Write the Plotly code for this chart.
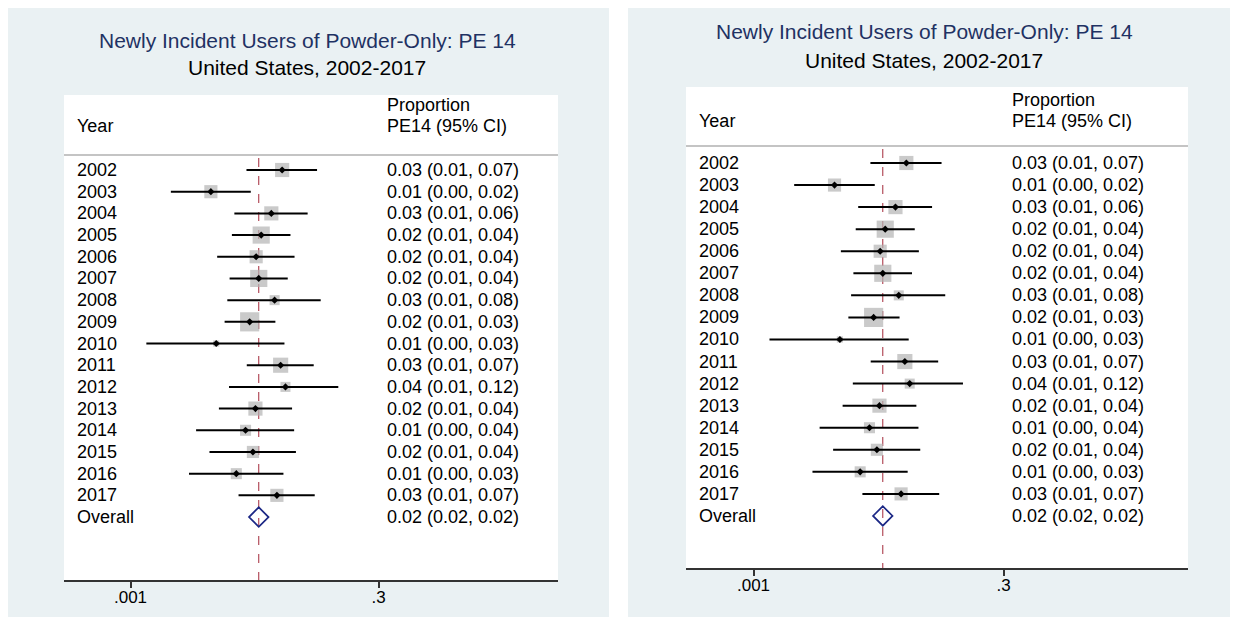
import plotly.graph_objects as go

# window is 1238x617; the page body adds an 8px margin, so the figure is
# made 8px smaller and every window-pixel position is shifted by that margin
WIN_W, WIN_H = 1238, 617
OFF = 8
W, H = WIN_W - OFF, WIN_H - OFF

# ---------------- data ----------------
years = ["2002", "2003", "2004", "2005", "2006", "2007", "2008", "2009",
         "2010", "2011", "2012", "2013", "2014", "2015", "2016", "2017"]
est = [0.0327, 0.00635, 0.0255, 0.0202, 0.0180, 0.0191, 0.0275, 0.0155,
       0.00718, 0.0316, 0.0353, 0.0177, 0.0141, 0.0167, 0.0114, 0.0290]
ci_low = [0.0144, 0.00253, 0.0109, 0.0103, 0.00734, 0.00977, 0.00927, 0.00871,
          0.00144, 0.0145, 0.00964, 0.00764, 0.00452, 0.00615, 0.00384, 0.0120]
ci_high = [0.0730, 0.0159, 0.0588, 0.0396, 0.0435, 0.0372, 0.0794, 0.0280,
           0.0345, 0.0676, 0.119, 0.0411, 0.0431, 0.0449, 0.0337, 0.0692]
weights = [6.4, 5.5, 6.4, 9.4, 5.5, 9.4, 3.2, 11.7,
           1.2, 7.3, 3.2, 6.4, 3.9, 4.7, 3.9, 5.5]
est_labels = ["0.03 (0.01, 0.07)", "0.01 (0.00, 0.02)", "0.03 (0.01, 0.06)",
              "0.02 (0.01, 0.04)", "0.02 (0.01, 0.04)", "0.02 (0.01, 0.04)",
              "0.03 (0.01, 0.08)", "0.02 (0.01, 0.03)", "0.01 (0.00, 0.03)",
              "0.03 (0.01, 0.07)", "0.04 (0.01, 0.12)", "0.02 (0.01, 0.04)",
              "0.01 (0.00, 0.04)", "0.02 (0.01, 0.04)", "0.01 (0.00, 0.03)",
              "0.03 (0.01, 0.07)"]
overall_label_name = "Overall"
overall_est = 0.0191
overall_text = "0.02 (0.02, 0.02)"
tick_vals = [0.001, 0.3]
tick_text = [".001", ".3"]
title_text = "Newly Incident Users of Powder-Only: PE 14"
subtitle_text = "United States, 2002-2017"
col_year = "Year"
col_est1 = "Proportion"
col_est2 = "PE14 (95% CI)"

# ---------------- layout geometry (window pixels) ----------------
panels = [
    dict(bg=(7, 7, 609, 617), box=(64, 95, 558, 580), t001=130.5, t3=378.5,
         row0=170, drow=21.69, cx=307, title_y=40, sub_y=68, head1_y=105,
         head2_y=126, sep_y=155, year_x=75, est_x=385),
    dict(bg=(628, 0, 1238, 617), box=(686, 87, 1188, 568), t001=753.5, t3=1003.5,
         row0=163, drow=22.06, cx=924, title_y=32, sub_y=60, head1_y=100,
         head2_y=121, sep_y=146, year_x=697, est_x=1010),
]
FONT = "Liberation Sans, Arial, sans-serif"
BG = "#eaf1f3"


def px(x):
    return (x - OFF) / W


def py(y):
    return 1 - (y - OFF) / H


fig = go.Figure()
shapes = []
annotations = []
layout_axes = {}
LOG_001, LOG_3 = -3.0, -0.5228787

n = len(years)
for k, p in enumerate(panels):
    sfx = "" if k == 0 else str(k + 1)
    xa, ya = "x" + sfx, "y" + sfx
    x0, y0, x1, y1 = p["box"]
    bx0, by0, bx1, by1 = p["bg"]
    ppd = (p["t3"] - p["t001"]) / (LOG_3 - LOG_001)
    xrange = [LOG_001 - (p["t001"] - x0) / ppd, LOG_001 + (x1 - p["t001"]) / ppd]

    shapes.append(dict(type="rect", xref="paper", yref="paper", layer="below",
                       x0=px(bx0), x1=px(bx1), y0=py(by1), y1=py(by0),
                       fillcolor=BG, line=dict(width=0)))
    shapes.append(dict(type="rect", xref="paper", yref="paper", layer="below",
                       x0=px(x0), x1=px(x1), y0=py(y1), y1=py(y0),
                       fillcolor="white", line=dict(width=0)))
    shapes.append(dict(type="line", xref="paper", yref="paper", layer="above",
                       x0=px(x0), x1=px(x1), y0=py(p["sep_y"]), y1=py(p["sep_y"]),
                       line=dict(color="#c4c4c4", width=2)))

    def row_of(pix, p=p):
        return (pix - p["row0"]) / p["drow"]

    yr = [row_of(y1), row_of(y0)]
    rows = list(range(n))
    ov_row = n

    fig.add_trace(go.Scatter(x=[overall_est, overall_est],
                             y=[row_of(p["sep_y"] + 3), row_of(y1)],
                             mode="lines", xaxis=xa, yaxis=ya, showlegend=False,
                             line=dict(color="#a3293a", width=1, dash="dash"),
                             hoverinfo="skip"))
    fig.add_trace(go.Scatter(x=est, y=rows, mode="markers", xaxis=xa, yaxis=ya,
                             showlegend=False, hoverinfo="skip",
                             marker=dict(symbol="square", color="#b3b3b3",
                                         size=[5.6 * w ** 0.5 for w in weights],
                                         line=dict(width=0))))
    cx, cy = [], []
    for i in range(n):
        cx += [ci_low[i], ci_high[i], None]
        cy += [i, i, None]
    fig.add_trace(go.Scatter(x=cx, y=cy, mode="lines", xaxis=xa, yaxis=ya,
                             showlegend=False, hoverinfo="skip",
                             line=dict(color="black", width=2)))
    fig.add_trace(go.Scatter(x=est, y=rows, mode="markers", xaxis=xa, yaxis=ya,
                             showlegend=False, hoverinfo="skip",
                             marker=dict(symbol="diamond", color="black", size=5.5)))
    fig.add_trace(go.Scatter(x=[overall_est], y=[ov_row], mode="markers",
                             xaxis=xa, yaxis=ya, showlegend=False, hoverinfo="skip",
                             marker=dict(symbol="diamond-open", color="#1b2785",
                                         size=15, line=dict(width=1.7, color="#1b2785"))))

    layout_axes["xaxis" + sfx] = dict(
        type="log", range=xrange, domain=[px(x0), px(x1)], anchor=ya,
        tickvals=tick_vals, ticktext=tick_text, ticks="outside", ticklen=6,
        tickwidth=2, tickcolor="#333333", showline=True, linewidth=2,
        linecolor="#333333", showgrid=False, zeroline=False,
        ticklabelstandoff=-5,
        tickfont=dict(family=FONT, size=17, color="black"))
    layout_axes["yaxis" + sfx] = dict(
        range=yr, domain=[py(y1), py(y0)], anchor=xa, visible=False,
        showgrid=False, zeroline=False)

    for i, (yl, el) in enumerate(zip(years + [overall_label_name],
                                     est_labels + [overall_text])):
        annotations.append(dict(xref="paper", yref=ya, x=px(p["year_x"]), y=i,
                                text=yl, showarrow=False, xanchor="left",
                                yanchor="middle",
                                font=dict(family=FONT, size=18, color="black")))
        annotations.append(dict(xref="paper", yref=ya, x=px(p["est_x"]), y=i,
                                text=el, showarrow=False, xanchor="left",
                                yanchor="middle",
                                font=dict(family=FONT, size=18, color="black")))
    for txt, xx, yy in [(col_year, p["year_x"], p["head2_y"]),
                        (col_est1, p["est_x"], p["head1_y"]),
                        (col_est2, p["est_x"], p["head2_y"])]:
        annotations.append(dict(xref="paper", yref="paper", x=px(xx), y=py(yy),
                                text=txt, showarrow=False, xanchor="left",
                                yanchor="middle",
                                font=dict(family=FONT, size=18, color="black")))
    annotations.append(dict(xref="paper", yref="paper", x=px(p["cx"]),
                            y=py(p["title_y"]), text=title_text, showarrow=False,
                            xanchor="center", yanchor="middle",
                            font=dict(family=FONT, size=21, color="#1f3263")))
    annotations.append(dict(xref="paper", yref="paper", x=px(p["cx"]),
                            y=py(p["sub_y"]), text=subtitle_text, showarrow=False,
                            xanchor="center", yanchor="middle",
                            font=dict(family=FONT, size=21, color="black")))

fig.update_layout(width=W, height=H, margin=dict(l=0, r=0, t=0, b=0),
                  paper_bgcolor="white", plot_bgcolor="rgba(0,0,0,0)",
                  shapes=shapes, annotations=annotations, showlegend=False,
                  **layout_axes)
fig.write_html("out.html")
